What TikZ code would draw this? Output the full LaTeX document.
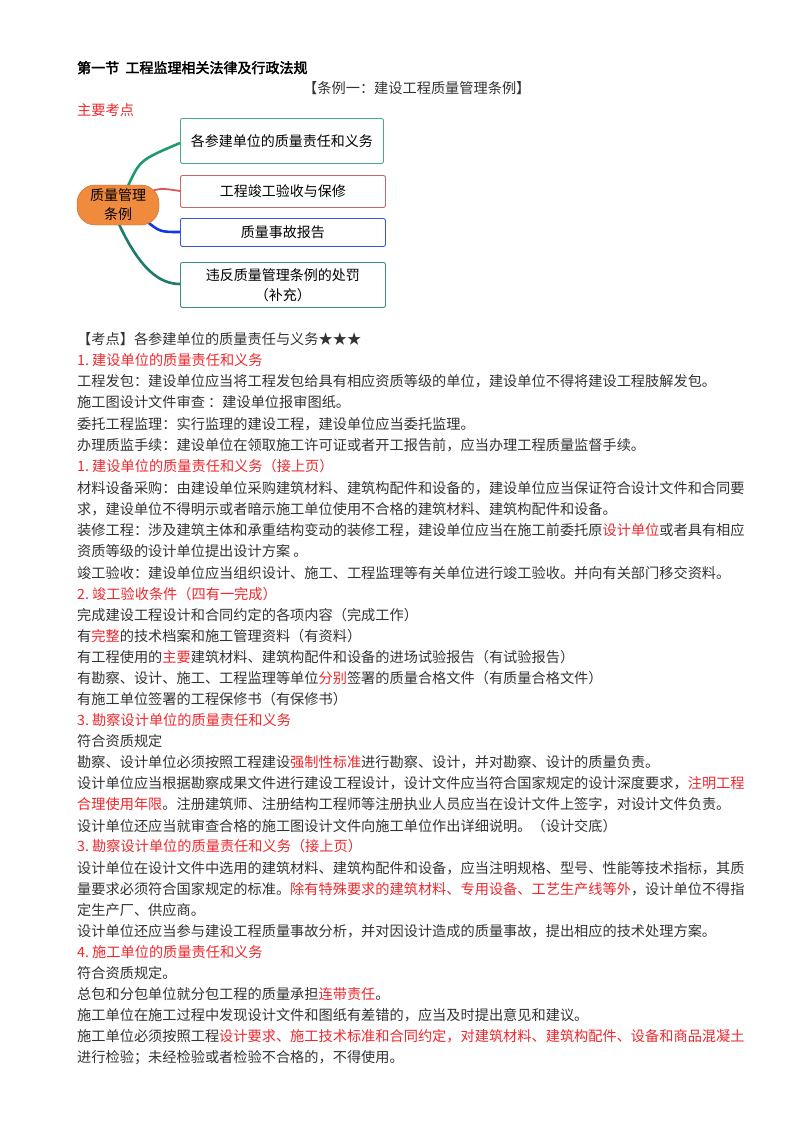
\documentclass[tikz,border=0pt]{standalone}
\usepackage{fontspec}
\setmainfont{Noto Sans CJK SC}[AutoFakeBold=2.5]
\usetikzlibrary{shapes.geometric}
\definecolor{rd}{HTML}{F0282D}
\definecolor{ttl}{HTML}{333333}
\definecolor{b1}{HTML}{4BA88A}
\definecolor{b2}{HTML}{C46A6A}
\definecolor{b3}{HTML}{3557E0}
\definecolor{b4}{HTML}{3A8C7E}
\definecolor{c1}{HTML}{1E9A6E}
\definecolor{c2}{HTML}{D85858}
\definecolor{c3}{HTML}{1438E8}
\definecolor{c4}{HTML}{1E7A6A}
\definecolor{org}{HTML}{F08A3C}
\begin{document}
\begin{tikzpicture}[x=1pt,y=-1pt,
  ln/.style={anchor=base west,inner sep=0pt,font=\fontsize{14.2pt}{14pt}\selectfont,text=ttl},
  bx/.style={draw,rounded corners=2pt,line width=0.9pt,anchor=north west,inner sep=0pt,align=center,font=\fontsize{14pt}{20pt}\selectfont},
  cn/.style={line width=2.6pt}]
\useasboundingbox (0,0) rectangle (800,1132);
\fill[white] (0,0) rectangle (800,1132);
\node[ln,text=black,font=\fontsize{14pt}{14pt}\selectfont\bfseries] (t0) at (77,73) {第一节\ \ 工程监理相关法律及行政法规};
\node[ln] (t1) at (303,93) {【条例一：建设工程质量管理条例】};
\node[ln,text=rd] (t2) at (77,115) {主要考点};
% mind map
\draw[cn,c1] (128,186) .. controls (140,160) .. (180,143);
\draw[cn,c2,line width=1.8pt] (150,192) .. controls (160,188) .. (180,191);
\draw[cn,c3] (145,220) .. controls (160,232) .. (180,232);
\draw[cn,c4] (118,222) .. controls (140,270) and (160,284) .. (180,284);
\node[rectangle,rounded corners=18pt,fill=org,draw=org!80!black,minimum width=82pt,minimum height=40pt,inner sep=0pt,align=center,font=\fontsize{14pt}{19pt}\selectfont] (c) at (118,205) {质量管理\\条例};
\node[bx,draw=b1,minimum width=203pt,minimum height=45pt] (n1) at (180,118) {各参建单位的质量责任和义务};
\node[bx,draw=b2,minimum width=205pt,minimum height=32pt] (n2) at (180,175) {工程竣工验收与保修};
\node[bx,draw=b3,minimum width=205pt,minimum height=28pt] (n3) at (180,218) {质量事故报告};
\node[bx,draw=b4,minimum width=205pt,minimum height=45pt] (n4) at (180,262) {违反质量管理条例的处罚\\（补充）};
% body text
\node[ln] (l1) at (77,344) {【考点】各参建单位的质量责任与义务★★★};
\node[ln,text=rd] (l2) at (77,365) {1.\ 建设单位的质量责任和义务};
\node[ln] (l3) at (77,386) {工程发包：建设单位应当将工程发包给具有相应资质等级的单位，建设单位不得将建设工程肢解发包。};
\node[ln] (l4) at (77,407) {施工图设计文件审查\ ：建设单位报审图纸。};
\node[ln] (l5) at (77,429) {委托工程监理：实行监理的建设工程，建设单位应当委托监理。};
\node[ln] (l6) at (77,450) {办理质监手续：建设单位在领取施工许可证或者开工报告前，应当办理工程质量监督手续。};
\node[ln,text=rd] (l7) at (77,471) {1.\ 建设单位的质量责任和义务（接上页）};
\node[ln] (l8) at (77,493) {材料设备采购：由建设单位采购建筑材料、建筑构配件和设备的，建设单位应当保证符合设计文件和合同要};
\node[ln] (l9) at (77,514) {求，建设单位不得明示或者暗示施工单位使用不合格的建筑材料、建筑构配件和设备。};
\node[ln] (l10) at (77,535) {装修工程：涉及建筑主体和承重结构变动的装修工程，建设单位应当在施工前委托原\textcolor{rd}{设计单位}或者具有相应};
\node[ln] (l11) at (77,556) {资质等级的设计单位提出设计方案\ 。};
\node[ln] (l12) at (77,578) {竣工验收：建设单位应当组织设计、施工、工程监理等有关单位进行竣工验收。并向有关部门移交资料。};
\node[ln,text=rd] (l13) at (77,599) {2.\ 竣工验收条件（四有一完成）};
\node[ln] (l14) at (77,620) {完成建设工程设计和合同约定的各项内容（完成工作）};
\node[ln] (l15) at (77,641) {有\textcolor{rd}{完整}的技术档案和施工管理资料（有资料）};
\node[ln] (l16) at (77,662) {有工程使用的\textcolor{rd}{主要}建筑材料、建筑构配件和设备的进场试验报告（有试验报告）};
\node[ln] (l17) at (77,683) {有勘察、设计、施工、工程监理等单位\textcolor{rd}{分别}签署的质量合格文件（有质量合格文件）};
\node[ln] (l18) at (77,704) {有施工单位签署的工程保修书（有保修书）};
\node[ln,text=rd] (l19) at (77,725) {3.\ 勘察设计单位的质量责任和义务};
\node[ln] (l20) at (77,746) {符合资质规定};
\node[ln] (l21) at (77,767) {勘察、设计单位必须按照工程建设\textcolor{rd}{强制性标准}进行勘察、设计，并对勘察、设计的质量负责。};
\node[ln] (l22) at (77,788) {设计单位应当根据勘察成果文件进行建设工程设计，设计文件应当符合国家规定的设计深度要求，\textcolor{rd}{注明工程}};
\node[ln] (l23) at (77,809) {\textcolor{rd}{合理使用年限}。注册建筑师、注册结构工程师等注册执业人员应当在设计文件上签字，对设计文件负责。};
\node[ln] (l24) at (77,831) {设计单位还应当就审查合格的施工图设计文件向施工单位作出详细说明。（设计交底）};
\node[ln,text=rd] (l25) at (77,851) {3.\ 勘察设计单位的质量责任和义务（接上页）};
\node[ln] (l26) at (77,873) {设计单位在设计文件中选用的建筑材料、建筑构配件和设备，应当注明规格、型号、性能等技术指标，其质};
\node[ln] (l27) at (77,894) {量要求必须符合国家规定的标准。\textcolor{rd}{除有特殊要求的建筑材料、专用设备、工艺生产线等外}，设计单位不得指};
\node[ln] (l28) at (77,915) {定生产厂、供应商。};
\node[ln] (l29) at (77,936) {设计单位还应当参与建设工程质量事故分析，并对因设计造成的质量事故，提出相应的技术处理方案。};
\node[ln,text=rd] (l30) at (77,957) {4.\ 施工单位的质量责任和义务};
\node[ln] (l31) at (77,978) {符合资质规定。};
\node[ln] (l32) at (77,999) {总包和分包单位就分包工程的质量承担\textcolor{rd}{连带责任}。};
\node[ln] (l33) at (77,1020) {施工单位在施工过程中发现设计文件和图纸有差错的，应当及时提出意见和建议。};
\node[ln] (l34) at (77,1041) {施工单位必须按照工程\textcolor{rd}{设计要求、施工技术标准和合同约定，对建筑材料、建筑构配件、设备和商品混凝土}};
\node[ln] (l35) at (77,1062) {进行检验；未经检验或者检验不合格的，不得使用。};
\end{tikzpicture}
\end{document}
